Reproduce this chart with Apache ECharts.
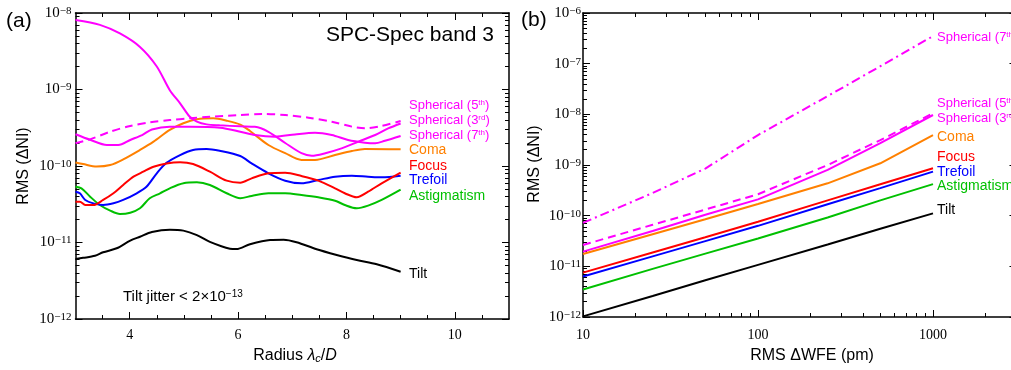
<!DOCTYPE html>
<html><head><meta charset="utf-8">
<script src="https://cdn.jsdelivr.net/npm/echarts@6/dist/echarts.min.js"></script>
<style>html,body{margin:0;padding:0;background:#fff}#c{width:1011px;height:370px}</style>
</head><body><div id="c"></div><script>
// ---------- Panel (a): RMS ΔNI vs radius (λc/D) ----------
const sph3A_r = [3.00,3.45,3.82,4.19,4.50,4.74,4.93,5.11,5.24,5.42,5.66,6.04,6.31,6.56,6.87,7.17,7.36,7.61,7.91,8.22,8.53,8.77,9.00];
const sph3A_v = [8.1e-9,7.0e-9,5.4e-9,3.6e-9,2.0e-9,9.8e-10,6.6e-10,4.4e-10,3.8e-10,3.5e-10,3.4e-10,3.3e-10,3.25e-10,2.8e-10,2.0e-10,1.47e-10,1.36e-10,1.47e-10,1.7e-10,2.08e-10,2.54e-10,3.1e-10,3.6e-10];
const sph7A_r = [3.00,3.27,3.58,3.79,4.01,4.23,4.41,4.74,5.11,5.67,6.04,6.31,6.68,7.05,7.42,7.73,8.03,8.34,8.53,8.71,9.00];
const sph7A_v = [2.6e-10,2.2e-10,1.88e-10,1.88e-10,2.19e-10,2.54e-10,3.0e-10,3.27e-10,3.27e-10,3.17e-10,2.81e-10,2.54e-10,2.42e-10,2.59e-10,2.72e-10,2.54e-10,2.19e-10,2.02e-10,1.98e-10,2.14e-10,2.47e-10];
const sph5A_r = [3.00,3.27,3.64,4.01,4.37,4.74,5.11,5.48,6.04,6.44,6.87,7.30,7.73,8.10,8.34,8.65,9.00];
const sph5A_v = [1.98e-10,2.23e-10,2.81e-10,3.34e-10,3.72e-10,3.99e-10,4.2e-10,4.41e-10,4.64e-10,4.79e-10,4.64e-10,4.28e-10,3.79e-10,3.27e-10,3.11e-10,3.34e-10,3.87e-10];
const comaA_r = [3.00,3.14,3.39,3.64,3.88,4.19,4.44,4.74,4.99,5.24,5.54,5.79,6.04,6.22,6.56,6.87,7.17,7.42,7.79,8.10,8.34,9.00];
const comaA_v = [1.11e-10,1.06e-10,9.85e-11,1.03e-10,1.22e-10,1.62e-10,2.08e-10,2.96e-10,3.62e-10,4.08e-10,4.2e-10,3.91e-10,3.48e-10,2.87e-10,1.88e-10,1.47e-10,1.2e-10,1.2e-10,1.39e-10,1.57e-10,1.67e-10,1.65e-10];
const focusA_r = [3.00,3.08,3.18,3.33,3.51,3.70,3.88,4.07,4.25,4.44,4.68,4.93,5.17,5.48,5.79,6.04,6.25,6.56,6.87,7.17,7.48,7.79,7.97,8.19,8.40,8.65,9.00];
const focusA_v = [3.41e-11,3.41e-11,3.09e-11,3.09e-11,3.6e-11,4.4e-11,5.65e-11,7.25e-11,8.42e-11,9.79e-11,1.08e-10,1.12e-10,1.06e-10,8.42e-11,6.43e-11,6.05e-11,6.9e-11,8.03e-11,8.17e-11,7.39e-11,6.43e-11,5.11e-11,4.4e-11,3.9e-11,4.61e-11,5.94e-11,8.22e-11];
const trefA_r = [3.00,3.08,3.18,3.33,3.51,3.70,3.88,4.13,4.31,4.50,4.68,4.93,5.17,5.42,5.66,6.04,6.25,6.56,6.87,7.17,7.48,7.79,8.10,8.40,8.65,9.00];
const trefA_v = [4.61e-11,4.4e-11,3.6e-11,3.25e-11,3.09e-11,3.25e-11,3.6e-11,4.4e-11,5.36e-11,8.03e-11,1.1e-10,1.39e-10,1.62e-10,1.67e-10,1.58e-10,1.35e-10,1.08e-10,8.03e-11,6.43e-11,5.94e-11,6.56e-11,7.25e-11,7.47e-11,7.25e-11,7.11e-11,7.47e-11];
const astA_r = [3.00,3.11,3.27,3.45,3.64,3.82,4.01,4.19,4.37,4.56,4.74,4.99,5.24,5.48,5.79,6.04,6.25,6.56,6.87,7.17,7.48,7.79,7.97,8.19,8.40,8.65,9.00];
const astA_v = [5.36e-11,5.11e-11,3.97e-11,3.09e-11,2.61e-11,2.36e-11,2.45e-11,2.8e-11,3.79e-11,4.4e-11,5.11e-11,5.94e-11,6.12e-11,5.65e-11,4.4e-11,3.79e-11,4.06e-11,4.4e-11,4.4e-11,4.18e-11,3.9e-11,3.52e-11,3.09e-11,2.8e-11,3.03e-11,3.6e-11,4.9e-11];
const tiltA_r = [3.00,3.14,3.36,3.51,3.76,4.01,4.19,4.41,4.74,4.99,5.24,5.48,5.85,5.97,6.22,6.59,6.84,7.08,7.45,7.82,8.19,8.56,9.00];
const tiltA_v = [6.1e-12,6.3e-12,6.7e-12,7.45e-12,8.4e-12,1.06e-11,1.19e-11,1.37e-11,1.47e-11,1.43e-11,1.25e-11,1.02e-11,8.3e-12,8.2e-12,9.5e-12,1.08e-11,1.09e-11,1.01e-11,8.15e-12,6.87e-12,5.9e-12,5.2e-12,4.15e-12];

// ---------- Panel (b): RMS ΔNI vs RMS ΔWFE (pm) ----------
const wfe = [10,25,50,100,250,500,1000];
const tiltB  = [1.03e-12,2.6e-12,5.3e-12,1.07e-11,2.7e-11,5.5e-11,1.11e-10];
const astB   = [3.5e-12,8.9e-12,1.78e-11,3.55e-11,9.2e-11,2.0e-10,4.2e-10];
const trefB  = [6.3e-12,1.57e-11,3.14e-11,6.3e-11,1.68e-10,3.5e-10,7.4e-10];
const focusB = [7.5e-12,1.87e-11,3.76e-11,7.6e-11,2.0e-10,4.17e-10,8.6e-10];
const comaB  = [1.75e-11,4.3e-11,8.5e-11,1.7e-10,4.35e-10,1.08e-9,3.9e-9];
const sph3B  = [1.95e-11,5.0e-11,1.04e-10,2.1e-10,8.0e-10,2.7e-9,9.7e-9];
const sph5B  = [2.64e-11,6.6e-11,1.32e-10,2.65e-10,1.0e-9,3.1e-9,1.05e-8];
const sph7B  = [7.2e-11,2.8e-10,8.5e-10,3.9e-9,2.29e-8,8.9e-8,3.5e-7];

// tick labels
const xTicksA = [4,6,8,10];
const xTicksB = [10,100,1000];

const COL = {mag:'#ff00ff', ora:'#ff8000', red:'#ff0000', blu:'#0000ff', grn:'#00c000', blk:'#000000'};
const SANS = 'Liberation Sans', SERIF = 'Liberation Serif';

const chart = echarts.init(document.getElementById('c'));
const pairs = (xs, ys) => xs.map((x, i) => [x, ys[i]]);

function minorLog(lo, hi) { const out = []; for (let d = lo; d < hi; d++) for (let k = 2; k <= 9; k++) { const v = d + Math.log10(k); if (v <= hi + 1e-9) out.push(v); } return out; }
function majorLog(lo, hi) { const out = []; for (let d = Math.ceil(lo); d <= hi; d++) out.push(d); return out; }

function deco(dim, gridIndex, position, min, max, vals, len, showLine) {
  return {type:'value', gridIndex, position, min, max,
    axisLine:{show:showLine, lineStyle:{color:'#000', width:1.5}},
    axisTick:{show:true, inside:true, length:len, customValues:vals, lineStyle:{color:'#000', width:1}},
    axisLabel:{show:false}, splitLine:{show:false}};
}
const expRich = {b:{fontFamily:SERIF, fontSize:15, color:'#000'}, s:{fontFamily:SERIF, fontSize:11, color:'#000', verticalAlign:'top'}};
function expFmt(v) { const l = Math.log10(v); const e = Math.round(l); if (Math.abs(l - e) > 1e-6) return ''; return '{b|10}{s|\u2212' + (-e) + '}'; }

const minorX_A = []; for (let v = 3.5; v <= 10.5; v += 0.5) if (xTicksA.indexOf(v) < 0) minorX_A.push(v);
const lxMaxB = Math.log10(3000);
const minorX_B = minorLog(1, lxMaxB);

const xAxis = [
  {type:'value', gridIndex:0, position:'bottom', min:3, max:11,
   axisLine:{show:true, lineStyle:{color:'#000', width:1.5}},
   axisTick:{show:true, inside:true, length:7, customValues:xTicksA, lineStyle:{color:'#000'}},
   axisLabel:{customValues:xTicksA, fontFamily:SERIF, fontSize:14, color:'#000', margin:9},
   splitLine:{show:false}},
  deco('x',0,'bottom',3,11,minorX_A,4,false),
  deco('x',0,'top',3,11,xTicksA,7,true),
  deco('x',0,'top',3,11,minorX_A,4,false),
  {type:'log', gridIndex:1, position:'bottom', min:10, max:3000, logBase:10,
   axisLine:{show:true, lineStyle:{color:'#000', width:1.5}},
   axisTick:{show:true, inside:true, length:7, lineStyle:{color:'#000'}},
   axisLabel:{fontFamily:SERIF, fontSize:14, color:'#000', margin:11, showMaxLabel:false,
     formatter:v => { const l = Math.log10(v); return Math.abs(l - Math.round(l)) < 1e-6 && xTicksB.indexOf(Math.round(v)) >= 0 ? String(Math.round(v)) : ''; }},
   splitLine:{show:false}},
  deco('x',1,'bottom',1,lxMaxB,minorX_B,4,false),
  deco('x',1,'top',1,lxMaxB,majorLog(1,lxMaxB),7,true),
  deco('x',1,'top',1,lxMaxB,minorX_B,4,false)
];
const yAxis = [
  {type:'log', gridIndex:0, position:'left', min:1e-12, max:1e-8, logBase:10,
   axisLine:{show:true, lineStyle:{color:'#000', width:1.5}},
   axisTick:{show:true, inside:true, length:7, lineStyle:{color:'#000'}},
   axisLabel:{formatter:expFmt, rich:expRich, margin:4}, splitLine:{show:false}},
  deco('y',0,'left',-12,-8,minorLog(-12,-8),4,false),
  deco('y',0,'right',-12,-8,majorLog(-12,-8),7,true),
  deco('y',0,'right',-12,-8,minorLog(-12,-8),4,false),
  {type:'log', gridIndex:1, position:'left', min:1e-12, max:1e-6, logBase:10,
   axisLine:{show:true, lineStyle:{color:'#000', width:1.5}},
   axisTick:{show:true, inside:true, length:7, lineStyle:{color:'#000'}},
   axisLabel:{formatter:expFmt, rich:expRich, margin:2}, splitLine:{show:false}},
  deco('y',1,'left',-12,-6,minorLog(-12,-6),4,false),
  deco('y',1,'right',-12,-6,majorLog(-12,-6),7,true),
  deco('y',1,'right',-12,-6,minorLog(-12,-6),4,false)
];

function line(name, data, color, xi, type, smooth) {
  return {type:'line', name, data, xAxisIndex:xi, yAxisIndex:xi, showSymbol:false, symbol:'none',
    smooth: smooth ? 0.3 : false, silent:true, z:3,
    lineStyle:{color, width:2, type: type || 'solid'}};
}
const series = [
  line('Tilt', pairs(tiltA_r, tiltA_v), COL.blk, 0, null, true),
  line('Astigmatism', pairs(astA_r, astA_v), COL.grn, 0, null, true),
  line('Trefoil', pairs(trefA_r, trefA_v), COL.blu, 0, null, true),
  line('Focus', pairs(focusA_r, focusA_v), COL.red, 0, null, true),
  line('Coma', pairs(comaA_r, comaA_v), COL.ora, 0, null, true),
  line('Spherical (7th)', pairs(sph7A_r, sph7A_v), COL.mag, 0, null, true),
  line('Spherical (3rd)', pairs(sph3A_r, sph3A_v), COL.mag, 0, null, true),
  line('Spherical (5th)', pairs(sph5A_r, sph5A_v), COL.mag, 0, [8,5], true),
  line('Tilt', pairs(wfe, tiltB), COL.blk, 4),
  line('Astigmatism', pairs(wfe, astB), COL.grn, 4),
  line('Trefoil', pairs(wfe, trefB), COL.blu, 4),
  line('Focus', pairs(wfe, focusB), COL.red, 4),
  line('Coma', pairs(wfe, comaB), COL.ora, 4),
  line('Spherical (3rd)', pairs(wfe, sph3B), COL.mag, 4),
  line('Spherical (5th)', pairs(wfe, sph5B), COL.mag, 4, [8,5]),
  line('Spherical (7th)', pairs(wfe, sph7B), COL.mag, 4, [9,4,2,4])
];

function txt(x, y, text, opts) {
  const o = opts || {};
  return {type:'text', x, y, rotation:o.rot || 0, silent:true, z:10,
    style:{text, fill:o.fill || '#000', fontFamily:o.ff || SANS, fontSize:o.fs || 14,
      fontStyle:o.fst || 'normal', align:o.align || 'left', verticalAlign:'middle', rich:o.rich}};
}
function supLabel(x, y, main, sup, color, fs) {
  const rich = {m:{fill:color, fontFamily:SANS, fontSize:fs}, u:{fill:color, fontFamily:SANS, fontSize:Math.round(fs*0.6), verticalAlign:'top'}};
  return txt(x, y, '{m|' + main + '}{u|' + sup + '}{m|)}', {rich, fill:color, fs});
}
const graphic = [
  txt(6, 21, '(a)', {fs:21}),
  txt(521, 20, '(b)', {fs:21}),
  txt(494, 35, 'SPC-Spec band 3', {fs:21, align:'right'}),
  txt(123, 297, '{n|Tilt jitter < 2\u00d710}{u|\u221213}', {rich:{n:{fill:'#000', fontFamily:SANS, fontSize:15}, u:{fill:'#000', fontFamily:SANS, fontSize:10, verticalAlign:'top'}}}),
  txt(24, 166, 'RMS (\u0394NI)', {fs:16, rot:Math.PI/2, align:'center'}),
  txt(535, 164, 'RMS (\u0394NI)', {fs:16, rot:Math.PI/2, align:'center'}),
  txt(295, 356, '{n|Radius }{i|\u03bb}{c|c}{n|/}{i|D}', {align:'center', rich:{
      n:{fill:'#000', fontFamily:SANS, fontSize:16}, i:{fill:'#000', fontFamily:SANS, fontSize:16, fontStyle:'italic'},
      c:{fill:'#000', fontFamily:SANS, fontSize:11, fontStyle:'italic', verticalAlign:'bottom'}}}),
  txt(812, 356, 'RMS \u0394WFE (pm)', {fs:16, align:'center'}),
  // panel (a) labels
  supLabel(409, 105, 'Spherical (5', 'th', COL.mag, 13),
  supLabel(409, 120, 'Spherical (3', 'rd', COL.mag, 13),
  supLabel(409, 135, 'Spherical (7', 'th', COL.mag, 13),
  txt(409, 150, 'Coma', {fill:COL.ora}),
  txt(409, 166, 'Focus', {fill:COL.red}),
  txt(409, 180, 'Trefoil', {fill:COL.blu}),
  txt(409, 196, 'Astigmatism', {fill:COL.grn}),
  txt(409, 274, 'Tilt', {fill:COL.blk}),
  // panel (b) labels
  supLabel(937, 37, 'Spherical (7', 'th', COL.mag, 13),
  supLabel(937, 103, 'Spherical (5', 'th', COL.mag, 13),
  supLabel(937, 118, 'Spherical (3', 'rd', COL.mag, 13),
  txt(937, 137, 'Coma', {fill:COL.ora}),
  txt(937, 157, 'Focus', {fill:COL.red}),
  txt(937, 172, 'Trefoil', {fill:COL.blu}),
  txt(937, 186, 'Astigmatism', {fill:COL.grn}),
  txt(937, 210, 'Tilt', {fill:COL.blk})
];

chart.setOption({
  animation:false,
  backgroundColor:'#fff',
  textStyle:{fontFamily:SANS},
  grid:[
    {left:75.5, top:13, width:433.5, height:306, outerBoundsMode:'none', containLabel:false},
    {left:583, top:13, width:433.5, height:304, outerBoundsMode:'none', containLabel:false}
  ],
  xAxis, yAxis, series, graphic
});
</script></body></html>
